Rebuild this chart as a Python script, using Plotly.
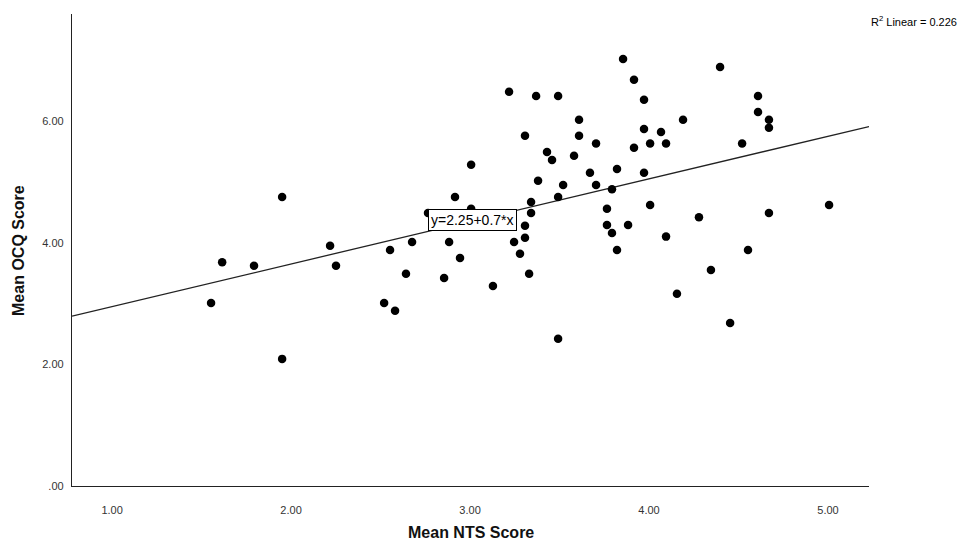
import numpy as np
import plotly.graph_objects as go

# Data
nts_score = [1.553, 1.615, 1.793, 1.950, 1.950, 2.218, 2.251, 2.520, 2.553, 2.581,
             2.642, 2.676, 2.765, 2.855, 2.883, 2.916, 2.944, 3.006, 3.006, 3.128,
             3.218, 3.246, 3.279, 3.307, 3.307, 3.307, 3.330, 3.341, 3.341, 3.369,
             3.380, 3.430, 3.458, 3.492, 3.492, 3.492, 3.520, 3.581, 3.609, 3.609,
             3.670, 3.704, 3.704, 3.765, 3.765, 3.793, 3.793, 3.821, 3.821, 3.855,
             3.883, 3.916, 3.916, 3.972, 3.972, 3.972, 4.006, 4.006, 4.067, 4.095,
             4.095, 4.156, 4.190, 4.279, 4.346, 4.397, 4.453, 4.520, 4.553, 4.609,
             4.609, 4.670, 4.670, 4.670, 5.006]
ocq_score = [3.01, 3.68, 3.62, 4.75, 2.09, 3.95, 3.62, 3.01, 3.88, 2.88,
             3.49, 4.01, 4.49, 3.42, 4.01, 4.75, 3.75, 5.28, 4.56, 3.29,
             6.48, 4.01, 3.82, 5.76, 4.28, 4.08, 3.49, 4.67, 4.49, 6.41,
             5.02, 5.49, 5.36, 6.41, 4.75, 2.42, 4.95, 5.43, 6.02, 5.76,
             5.15, 5.63, 4.95, 4.56, 4.29, 4.88, 4.16, 5.21, 3.88, 7.02,
             4.29, 6.68, 5.56, 6.35, 5.87, 5.15, 5.63, 4.62, 5.82, 5.63,
             4.10, 3.16, 6.02, 4.42, 3.55, 6.89, 2.68, 5.63, 3.88, 6.41,
             6.15, 6.02, 5.89, 4.49, 4.62]
fit_intercept = 2.25
fit_slope = 0.7
r_squared = 0.226
x_ticks = [1, 2, 3, 4, 5]
x_tick_labels = ["1.00", "2.00", "3.00", "4.00", "5.00"]
y_ticks = [0, 2, 4, 6]
y_tick_labels = [".00", "2.00", "4.00", "6.00"]

x_range = [0.776, 5.229]
y_range = [0, 7.76]

fit_x = np.array(x_range)
fit_y = fit_intercept + fit_slope * fit_x

fig = go.Figure()
fig.add_trace(go.Scatter(
    x=fit_x, y=fit_y, mode="lines",
    line=dict(color="#222222", width=1.3),
    hoverinfo="skip", showlegend=False, cliponaxis=True))
fig.add_trace(go.Scatter(
    x=nts_score, y=ocq_score, mode="markers",
    marker=dict(color="black", size=8.5, line=dict(width=0)),
    showlegend=False))

label_x = 2.765
label_y = 4.37
fig.add_annotation(
    x=label_x, y=label_y, xref="x", yref="y",
    text=f"y={fit_intercept:g}+{fit_slope:g}*x",
    showarrow=False, xanchor="left", yanchor="middle",
    font=dict(family="Liberation Sans, Arial", size=14, color="black"),
    bgcolor="white", bordercolor="black", borderwidth=1, borderpad=2)

fig.add_annotation(
    x=1.0, y=0.985, xref="paper", yref="paper",
    text=f"R<sup>2</sup> Linear = {r_squared:.3f}",
    showarrow=False, xanchor="left", yanchor="middle",
    font=dict(family="Liberation Sans, Arial", size=11, color="black"))

fig.add_annotation(
    x=0.5, y=-0.0975, xref="paper", yref="paper",
    text="<b>Mean NTS Score</b>", showarrow=False,
    xanchor="center", yanchor="middle",
    font=dict(family="Liberation Sans, Arial", size=16, color="#111111"))

fig.add_annotation(
    x=-0.0678, y=0.5, xref="paper", yref="paper",
    text="<b>Mean OCQ Score</b>", showarrow=False, textangle=-90,
    xanchor="center", yanchor="middle",
    font=dict(family="Liberation Sans, Arial", size=16, color="#111111"))

# page body has an 8px default margin, so the figure is 8px smaller
fig.update_layout(
    width=960, height=534,
    margin=dict(l=64, r=99, t=6, b=56),
    paper_bgcolor="white", plot_bgcolor="white",
    font=dict(family="Liberation Sans, Arial", size=11, color="#333333"),
    xaxis=dict(range=x_range, showgrid=False, zeroline=False,
               showline=True, linecolor="#222222", linewidth=1.3,
               tickvals=x_ticks, ticktext=x_tick_labels, ticks="",
               ticklabelstandoff=14, fixedrange=True),
    yaxis=dict(range=y_range, showgrid=False, zeroline=False,
               showline=True, linecolor="#222222", linewidth=1.3,
               tickvals=y_ticks, ticktext=y_tick_labels, ticks="",
               ticklabelstandoff=5, fixedrange=True),
)

fig.write_html("out.html")
